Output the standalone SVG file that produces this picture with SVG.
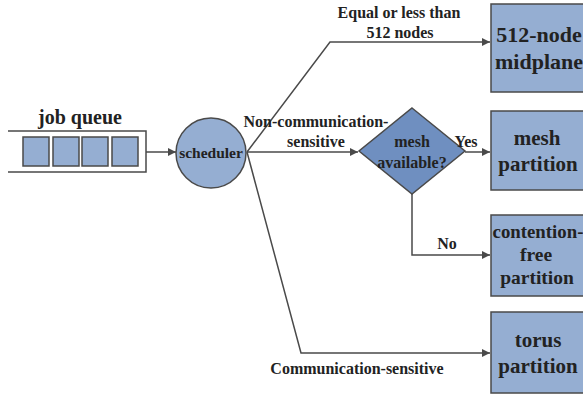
<svg xmlns="http://www.w3.org/2000/svg" width="583" height="397" viewBox="0 0 583 397">
<style>
.t{font-family:"Liberation Serif","Times New Roman",serif;font-weight:bold;fill:#222;text-anchor:middle}
.lbl{font-size:16px}
.box{fill:#95aed2;stroke:#4a4a4a;stroke-width:1.5}
.ln{fill:none;stroke:#4a4a4a;stroke-width:1.5}
</style>
<defs>
<marker id="ah" viewBox="0 0 10 10" refX="10" refY="5" markerWidth="8" markerHeight="8" markerUnits="userSpaceOnUse" orient="auto">
<path d="M0,0 L10,5 L0,10 z" fill="#4a4a4a"/>
</marker>
</defs>
<rect width="583" height="397" fill="#fff"/>
<g id="jobqueue">
<text class="t" x="80" y="124" font-size="20">job queue</text>
<path class="ln" d="M8,131 H146 V172 H8"/>
<rect class="box" x="23" y="137" width="26" height="29"/>
<rect class="box" x="53" y="137" width="26" height="29"/>
<rect class="box" x="82" y="137" width="26" height="29"/>
<rect class="box" x="112" y="137" width="26" height="29"/>
</g>
<g id="scheduler">
<circle class="box" cx="211" cy="153" r="35"/>
<text class="t" x="211" y="158" font-size="15.5">scheduler</text>
</g>
<g id="decision">
<polygon points="412,108 465,151 412,194 359,151" fill="#6f8fc0" stroke="#4a4a4a" stroke-width="1.5"/>
<text class="t lbl" x="412" y="147">mesh</text>
<text class="t lbl" x="412" y="168">available?</text>
</g>
<g id="midplane">
<rect class="box" x="491" y="4" width="100" height="88"/>
<text class="t" x="539" y="42" font-size="22">512-node</text>
<text class="t" x="539" y="69" font-size="22">midplane</text>
</g>
<g id="mesh">
<rect class="box" x="491" y="111" width="100" height="79"/>
<text class="t" x="537" y="145" font-size="21">mesh</text>
<text class="t" x="538" y="171" font-size="21">partition</text>
</g>
<g id="contention">
<rect class="box" x="491" y="215" width="100" height="81"/>
<text class="t" x="538" y="238" font-size="18.8">contention-</text>
<text class="t" x="536" y="261" font-size="19.5">free</text>
<text class="t" x="537" y="284" font-size="19.5">partition</text>
</g>
<g id="torus">
<rect class="box" x="491" y="312" width="100" height="81"/>
<text class="t" x="538" y="347" font-size="21">torus</text>
<text class="t" x="538" y="373" font-size="21">partition</text>
</g>
<g id="connectors">
<line class="ln" x1="146" y1="152" x2="176" y2="152" marker-end="url(#ah)"/>
<polyline class="ln" points="247,152 330,42 490,42" marker-end="url(#ah)"/>
<line class="ln" x1="247" y1="152" x2="358" y2="152" marker-end="url(#ah)"/>
<line class="ln" x1="465" y1="152" x2="490" y2="152" marker-end="url(#ah)"/>
<polyline class="ln" points="412,194 412,255 490,255" marker-end="url(#ah)"/>
<polyline class="ln" points="247,152 301,353 490,353" marker-end="url(#ah)"/>
</g>
<g id="labels">
<text class="t lbl" x="399" y="18">Equal or less than</text>
<text class="t lbl" x="400" y="38">512 nodes</text>
<text class="t lbl" x="316" y="127">Non-communication-</text>
<text class="t lbl" x="316" y="147">sensitive</text>
<text class="t lbl" x="466" y="147">Yes</text>
<text class="t lbl" x="447" y="249">No</text>
<text class="t lbl" x="357" y="374">Communication-sensitive</text>
</g>
</svg>
